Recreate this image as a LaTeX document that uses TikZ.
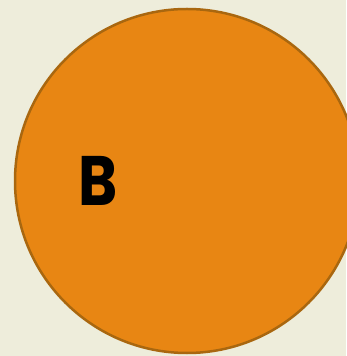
\documentclass[tikz,border=0pt]{standalone}
\usepackage{fontspec}
\newfontfamily\letterfont{Poppins}
\definecolor{bg}{HTML}{EEEDDB}
\definecolor{fillor}{HTML}{E88613}
\definecolor{edgeor}{HTML}{A9670F}
\begin{document}
\begin{tikzpicture}[x=1pt,y=1pt,
  disk/.style={circle, fill=fillor, draw=edgeor, line width=2.5pt, minimum size=344pt, inner sep=0pt},
  letter/.style={font=\letterfont\bfseries\fontsize{70}{70}\selectfont, text=black, inner sep=0pt, xscale=0.85}]
\fill[bg] (0,0) rectangle (346,356);
\useasboundingbox (0,0) rectangle (346,356);
\node[disk] (circ) at (187,175) {};
\node[letter] (b) at (98.5,175.5) {B};
\end{tikzpicture}
\end{document}
